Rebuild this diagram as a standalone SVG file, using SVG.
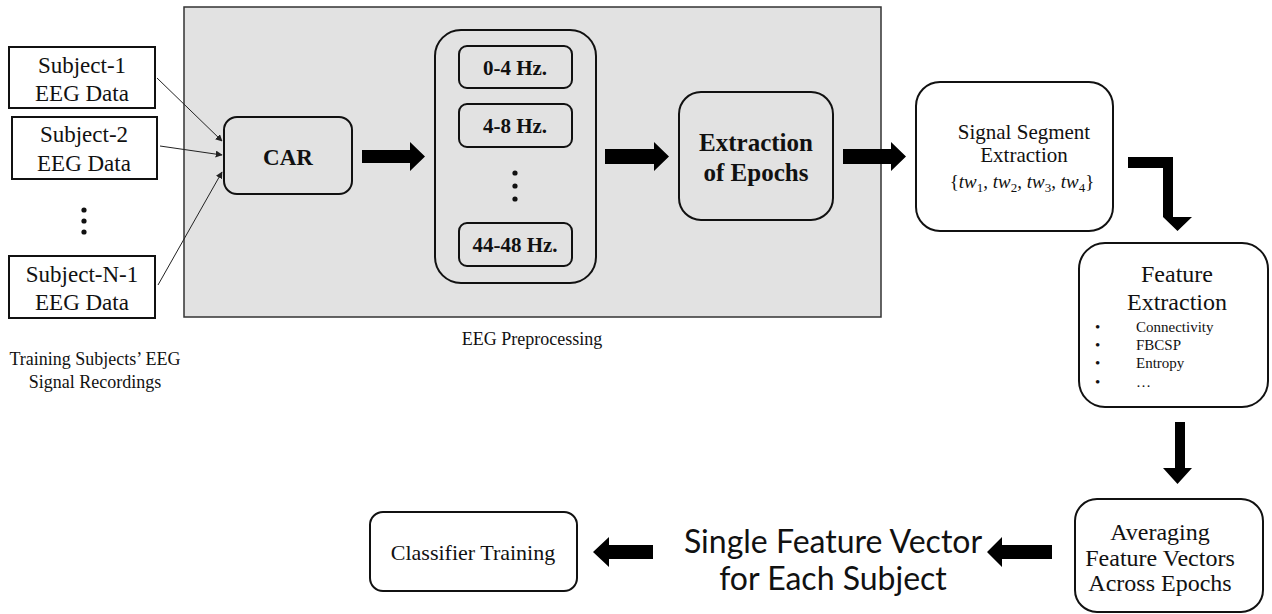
<svg xmlns="http://www.w3.org/2000/svg" width="1272" height="614" viewBox="0 0 1272 614">
<defs>
<style>
.serif{font-family:"Liberation Serif","Times New Roman",serif;fill:#111;text-anchor:middle}
.b{font-weight:bold}
.box{fill:#fff;stroke:#111;stroke-width:2}
.gbox{fill:#e2e2e2;stroke:#111;stroke-width:2}
.thin{stroke:#222;stroke-width:1;fill:none}
.big{fill:#000}
.sans{font-family:Lato,"Open Sans",sans-serif;fill:#111;text-anchor:middle}
</style>
<marker id="ah" viewBox="0 0 10 10" refX="9" refY="5" markerWidth="7" markerHeight="7" markerUnits="userSpaceOnUse" orient="auto">
<path d="M0,0 L10,5 L0,10 z" fill="#222"/>
</marker>
</defs>
<rect width="1272" height="614" fill="#fff"/>

<g id="preprocessing">
<rect x="184" y="7" width="697" height="310" fill="#e2e2e2" stroke="#333" stroke-width="1.5"/>
<text class="serif" x="532" y="345" font-size="18">EEG Preprocessing</text>
</g>

<g id="subject1">
<rect class="box" x="9" y="47" width="146" height="61"/>
<text class="serif" x="82" y="73" font-size="23">Subject-1</text>
<text class="serif" x="82" y="101" font-size="23">EEG Data</text>
</g>
<g id="subject2">
<rect class="box" x="12" y="117" width="145" height="62"/>
<text class="serif" x="84" y="142" font-size="23">Subject-2</text>
<text class="serif" x="84" y="171" font-size="23">EEG Data</text>
</g>
<g id="subject-dots">
<circle cx="84" cy="210" r="2.6" fill="#111"/>
<circle cx="84" cy="221" r="2.6" fill="#111"/>
<circle cx="84" cy="232" r="2.6" fill="#111"/>
</g>
<g id="subjectN1">
<rect class="box" x="9" y="256" width="146" height="62"/>
<text class="serif" x="82" y="282" font-size="23">Subject-N-1</text>
<text class="serif" x="82" y="310" font-size="23">EEG Data</text>
</g>
<g id="training-label">
<text class="serif" x="95" y="365" font-size="18">Training Subjects’ EEG</text>
<text class="serif" x="95" y="388" font-size="18">Signal Recordings</text>
</g>

<g id="car">
<rect class="gbox" x="224" y="117" width="128" height="77" rx="13"/>
<text class="serif b" x="288" y="165" font-size="23">CAR</text>
</g>

<g id="bands">
<rect class="gbox" x="435" y="30" width="161" height="253" rx="26"/>
<rect class="gbox" x="459" y="46" width="113" height="42" rx="8" stroke-width="1.5"/>
<text class="serif b" x="515" y="75" font-size="21">0-4 Hz.</text>
<rect class="gbox" x="459" y="104" width="113" height="43" rx="8" stroke-width="1.5"/>
<text class="serif b" x="515" y="133" font-size="21">4-8 Hz.</text>
<circle cx="515" cy="173" r="2.6" fill="#111"/>
<circle cx="515" cy="186" r="2.6" fill="#111"/>
<circle cx="515" cy="199" r="2.6" fill="#111"/>
<rect class="gbox" x="459" y="223" width="113" height="43" rx="8" stroke-width="1.5"/>
<text class="serif b" x="515" y="252" font-size="21">44-48 Hz.</text>
</g>

<g id="epochs">
<rect class="gbox" x="679" y="92" width="154" height="128" rx="22"/>
<text class="serif b" x="756" y="151" font-size="25">Extraction</text>
<text class="serif b" x="756" y="181" font-size="25">of Epochs</text>
</g>

<g id="segment">
<rect class="box" x="916" y="82" width="197" height="149" rx="24"/>
<text class="serif" x="1024" y="139" font-size="21">Signal Segment</text>
<text class="serif" x="1024" y="162" font-size="21">Extraction</text>
<text class="serif" x="1022" y="188" font-size="19">{<tspan font-style="italic">tw</tspan><tspan font-size="13" dy="4">1</tspan><tspan dy="-4">, </tspan><tspan font-style="italic">tw</tspan><tspan font-size="13" dy="4">2</tspan><tspan dy="-4">, </tspan><tspan font-style="italic">tw</tspan><tspan font-size="13" dy="4">3</tspan><tspan dy="-4">, </tspan><tspan font-style="italic">tw</tspan><tspan font-size="13" dy="4">4</tspan><tspan dy="-4">}</tspan></text>
</g>

<g id="feature">
<rect class="box" x="1079" y="243" width="189" height="164" rx="26"/>
<text class="serif" x="1177" y="282" font-size="24">Feature</text>
<text class="serif" x="1177" y="310" font-size="24">Extraction</text>
<g font-size="15">
<text class="serif" x="1095" y="332" style="text-anchor:start">•</text>
<text class="serif" x="1136" y="332" style="text-anchor:start">Connectivity</text>
<text class="serif" x="1095" y="350" style="text-anchor:start">•</text>
<text class="serif" x="1136" y="350" style="text-anchor:start">FBCSP</text>
<text class="serif" x="1095" y="368" style="text-anchor:start">•</text>
<text class="serif" x="1136" y="368" style="text-anchor:start">Entropy</text>
<text class="serif" x="1095" y="387" style="text-anchor:start">•</text>
<text class="serif" x="1136" y="387" style="text-anchor:start">…</text>
</g>
</g>

<g id="averaging">
<rect class="box" x="1075" y="499" width="188" height="113" rx="22"/>
<text class="serif" x="1160" y="540" font-size="24">Averaging</text>
<text class="serif" x="1160" y="566" font-size="24">Feature Vectors</text>
<text class="serif" x="1160" y="591" font-size="24">Across Epochs</text>
</g>

<g id="single-vector">
<text class="sans" x="833" y="553" font-size="32">Single Feature Vector</text>
<text class="sans" x="833" y="590" font-size="32">for Each Subject</text>
</g>

<g id="classifier">
<rect class="box" x="370" y="512" width="207" height="79" rx="13"/>
<text class="serif" x="473" y="560" font-size="22">Classifier Training</text>
</g>

<g id="connectors">
<line class="thin" x1="157" y1="78" x2="222" y2="141" marker-end="url(#ah)"/>
<line class="thin" x1="160" y1="146" x2="222" y2="155" marker-end="url(#ah)"/>
<line class="thin" x1="158" y1="285" x2="222" y2="172" marker-end="url(#ah)"/>
<path class="big" d="M362,150 H410 V142 L425,156.5 L410,171 V163 H362 Z"/>
<path class="big" d="M605,149 H654 V142 L669,156.5 L654,171 V164 H605 Z"/>
<path class="big" d="M843,149 H891 V142 L906,156.5 L891,171 V164 H843 Z"/>
<path class="big" d="M1128,157 H1173 V217 H1192 L1177.5,231 L1163,217 V168 H1128 Z"/>
<path class="big" d="M1175,422 H1185 V468 H1192 L1177.5,484 L1163,468 H1175 Z"/>
<path class="big" d="M1052,545 H1002 V537 L987,552 L1002,567 V559 H1052 Z"/>
<path class="big" d="M653,545 H609 V537 L593,552 L609,567 V559 H653 Z"/>
</g>
</svg>
